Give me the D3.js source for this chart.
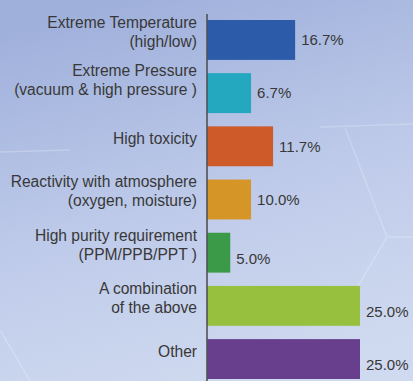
<!DOCTYPE html>
<meta charset="utf-8">
<script src="https://d3js.org/d3.v7.min.js"></script>
<style>
    html, body { margin: 0; padding: 0; overflow: hidden; }
    text { font-family: "Liberation Sans", Arial, sans-serif; fill: #383838; }
</style>
<svg width="413" height="381"></svg>
<script>
    var categories = [
        ["Extreme Temperature", "(high/low)"],
        ["Extreme Pressure", "(vacuum & high pressure )"],
        ["High toxicity"],
        ["Reactivity with atmosphere", "(oxygen, moisture)"],
        ["High purity requirement", "(PPM/PPB/PPT )"],
        ["A combination", "of the above"],
        ["Other"]
    ];
    // printed shares
    var shares = [16.7, 6.7, 11.7, 10.0, 5.0, 25.0, 25.0];
    // bar lengths as drawn in the picture (they do not follow the printed shares exactly)
    var barLengths = [14.4, 7.2, 10.8, 7.2, 3.8, 25.0, 25.0];
    var colors = ["#2c5ba9", "#24a8bf", "#cd5a28", "#d59527", "#3b9a47", "#97c03f", "#673f8d"];

    var svg = d3.select("svg"),
        width = +svg.attr("width"),
        height = +svg.attr("height");

    var defs = svg.append("defs");
    var grad = defs.append("linearGradient").attr("id", "bg")
        .attr("x1", "0.3").attr("y1", "0").attr("x2", "0.6").attr("y2", "1");
    grad.append("stop").attr("offset", "0%").attr("stop-color", "#9fb0db");
    grad.append("stop").attr("offset", "55%").attr("stop-color", "#bfcbea");
    grad.append("stop").attr("offset", "100%").attr("stop-color", "#cfd9ef");

    svg.append("rect").attr("width", width).attr("height", height).attr("fill", "url(#bg)");

    // faint hexagon lines in the backdrop
    var deco = svg.append("g").attr("fill", "none").attr("stroke", "#fff").attr("stroke-opacity", 0.22).attr("stroke-width", 1.5);
    deco.append("path").attr("d", "M320,127 L413,124 M345,128 L387,237 L413,237 M387,237 L350,300 M0,152 L70,150 M0,330 L30,381");

    var x = d3.scaleLinear().domain([0, 25]).range([207, 360]);
    var y = d3.scaleBand().domain(d3.range(categories.length)).range([20, 379]).paddingInner(0.25).paddingOuter(0);

    var rows = svg.append("g").selectAll("g").data(categories).join("g");

    rows.append("rect")
        .attr("x", x(0))
        .attr("y", function (d, i) { return y(i); })
        .attr("width", function (d, i) { return x(barLengths[i]) - x(0); })
        .attr("height", y.bandwidth())
        .attr("fill", function (d, i) { return colors[i]; });

    rows.append("text")
        .attr("x", function (d, i) { return x(barLengths[i]) + 6; })
        .attr("y", function (d, i) { return y(i) + y.bandwidth() / 2 + (i >= 4 ? 6 : 0); })
        .attr("dy", "0.35em")
        .attr("font-size", 15)
        .text(function (d, i) { return shares[i].toFixed(1) + "%"; });

    rows.append("text")
        .attr("text-anchor", "end")
        .attr("font-size", 15.6)
        .each(function (d, i) {
            var t = d3.select(this);
            var cy = y(i) + y.bandwidth() / 2 - (i == 1 ? 13 : 8);
            var lh = 19;
            d.forEach(function (line, k) {
                t.append("tspan")
                    .attr("x", x(0) - 10)
                    .attr("y", cy + (k - (d.length - 1) / 2) * lh)
                    .attr("dy", "0.35em")
                    .text(line);
            });
        });

    svg.append("line")
        .attr("x1", x(0)).attr("x2", x(0))
        .attr("y1", 14).attr("y2", height)
        .attr("stroke", "#4f5257").attr("stroke-width", 1.6);
</script>
